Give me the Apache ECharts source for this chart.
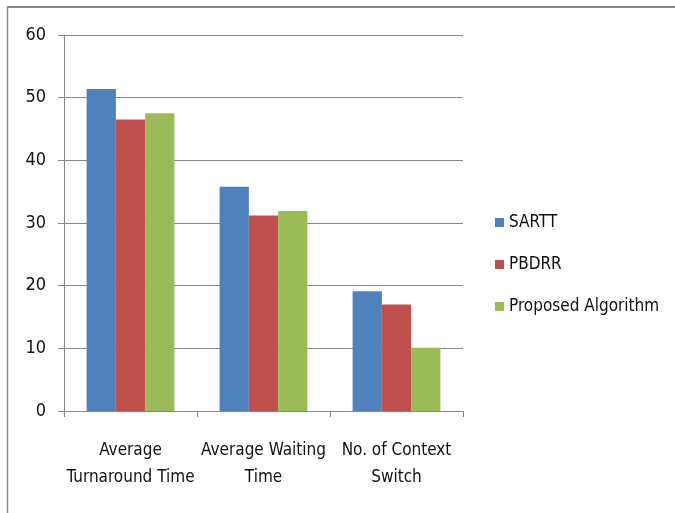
<!DOCTYPE html>
<html><head><meta charset="utf-8">
<script src="https://cdn.jsdelivr.net/npm/echarts@6/dist/echarts.min.js"></script>
<style>html,body{margin:0;padding:0;background:#fff}#c{width:675px;height:513px}</style>
</head><body><div id="c"></div>
<script>
const categories = ["Average\nTurnaround Time", "Average Waiting\nTime", "No. of Context\nSwitch"];
const sartt = [51.4, 35.8, 19.1];
const pbdrr = [46.5, 31.2, 17.0];
const proposed = [47.5, 31.9, 10.1];
const seriesNames = ["SARTT", "PBDRR", "Proposed Algorithm"];
const colors = ["#4F81BD", "#C0504D", "#9BBB59"];
const yTicks = {min: 0, max: 60, interval: 10};

const font = '"Liberation Sans Narrow", "DejaVu Sans Condensed", "Open Sans", sans-serif';
const chart = echarts.init(document.getElementById('c'));
chart.setOption({
  animation: false,
  backgroundColor: '#fff',
  color: colors,
  textStyle: {fontFamily: font},
  grid: {left: 64, top: 35, width: 399, height: 376, containLabel: false},
  legend: {
    orient: 'vertical', left: 490, top: 209, itemGap: 25,
    itemWidth: 9, itemHeight: 9, icon: 'rect',
    textStyle: {fontFamily: font, fontSize: 17, color: '#111'},
    data: seriesNames
  },
  xAxis: {
    type: 'category', data: categories,
    axisLine: {lineStyle: {color: '#868686', width: 1}},
    axisTick: {show: true, length: 6, lineStyle: {color: '#868686'}, alignWithLabel: false},
    axisLabel: {fontFamily: font, fontSize: 17, color: '#111', margin: 26, lineHeight: 27, interval: 0}
  },
  yAxis: {
    type: 'value', min: yTicks.min, max: yTicks.max, interval: yTicks.interval,
    axisLine: {show: true, lineStyle: {color: '#868686'}},
    axisTick: {show: true, length: 6, lineStyle: {color: '#868686'}},
    splitLine: {lineStyle: {color: '#868686', width: 1}},
    axisLabel: {fontFamily: font, fontSize: 18, color: '#111', margin: 18}
  },
  series: [
    {name: seriesNames[0], type: 'bar', data: sartt, barGap: '0%', barCategoryGap: '34%'},
    {name: seriesNames[1], type: 'bar', data: pbdrr, barGap: '0%', barCategoryGap: '34%'},
    {name: seriesNames[2], type: 'bar', data: proposed, barGap: '0%', barCategoryGap: '34%'}
  ],
  graphic: [
    {type: 'line', shape: {x1: 7, y1: 7, x2: 675, y2: 7}, style: {stroke: '#888', lineWidth: 2}},
    {type: 'line', shape: {x1: 7.5, y1: 7, x2: 7.5, y2: 513}, style: {stroke: '#888', lineWidth: 1.5}}
  ]
});
</script></body></html>
